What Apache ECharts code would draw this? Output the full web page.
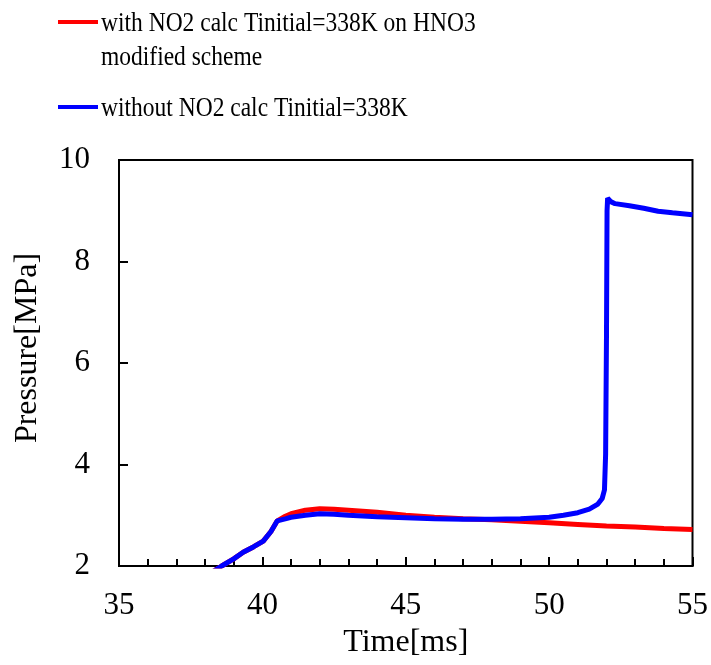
<!DOCTYPE html>
<html>
<head>
<meta charset="utf-8">
<script src="https://cdn.jsdelivr.net/npm/echarts@6/dist/echarts.min.js"></script>
<style>html,body{margin:0;padding:0;background:#fff;}#chart{width:711px;height:665px;}</style>
</head>
<body>
<div id="chart"></div>
<script>
const legendNames = ['with NO2 calc Tinitial=338K on HNO3\nmodified scheme', 'without NO2 calc Tinitial=338K'];
const xTicks = [35, 40, 45, 50, 55];
const yTicks = [2, 4, 6, 8, 10];
const timeRed = [38.3, 38.58, 39.0, 39.33, 39.7, 40.03, 40.3, 40.52, 40.8, 41.0, 41.5, 42.0, 42.5, 43.0, 44.0, 45.0, 46.0, 47.0, 48.0, 49.0, 50.0, 51.0, 52.0, 53.0, 54.0, 55.0];
const pressRed = [1.9, 2.0, 2.14, 2.27, 2.38, 2.49, 2.68, 2.89, 2.98, 3.03, 3.10, 3.13, 3.12, 3.10, 3.06, 3.00, 2.96, 2.93, 2.91, 2.88, 2.85, 2.82, 2.79, 2.77, 2.74, 2.72];
const timeBlue = [38.3, 38.58, 39.0, 39.33, 39.7, 40.03, 40.3, 40.52, 40.8, 41.0, 41.5, 42.0, 42.5, 43.0, 44.0, 45.0, 46.0, 47.0, 48.0, 49.0, 50.0, 50.5, 51.0, 51.4, 51.7, 51.85, 51.93, 51.97, 52.0, 52.02, 52.04, 52.15, 52.3, 52.8, 53.3, 53.8, 54.3, 55.0];
const pressBlue = [1.9, 2.0, 2.14, 2.27, 2.38, 2.49, 2.68, 2.89, 2.93, 2.96, 3.00, 3.03, 3.02, 3.00, 2.97, 2.95, 2.93, 2.92, 2.92, 2.93, 2.96, 3.00, 3.05, 3.12, 3.22, 3.33, 3.5, 4.2, 6.5, 9.0, 9.25, 9.18, 9.14, 9.10, 9.05, 8.99, 8.96, 8.92];

const FONT = '"Liberation Serif", "Times New Roman", serif';
const chart = echarts.init(document.getElementById('chart'));
const toPairs = (xs, ys) => xs.map((x, i) => [x, ys[i]]);
const legText = (text, x, y) => ({ type: 'text', x: x, y: y, scaleY: 1.2,
  style: { text: text, font: '23.5px ' + FONT, fill: '#000', verticalAlign: 'middle' } });

chart.setOption({
  animation: false,
  backgroundColor: '#fff',
  grid: { left: 119, right: 18, top: 160, bottom: 99, show: true, borderColor: '#000', borderWidth: 2, backgroundColor: 'transparent' },
  xAxis: {
    type: 'value', min: 35, max: 55, interval: 5,
    name: 'Time[ms]', nameLocation: 'middle', nameGap: 61,
    nameTextStyle: { fontFamily: FONT, fontSize: 32, color: '#000' },
    axisLine: { show: true, lineStyle: { color: '#000', width: 2 } },
    axisTick: { show: true, inside: true, length: 9, lineStyle: { color: '#000', width: 2 } },
    minorTick: { show: true, splitNumber: 5, length: 7, lineStyle: { color: '#000', width: 2 } },
    axisLabel: { fontFamily: FONT, fontSize: 31, color: '#000', margin: 24, formatter: v => xTicks.includes(v) ? String(v) : '' },
    splitLine: { show: false }
  },
  yAxis: {
    type: 'value', min: 2, max: 10, interval: 2,
    name: 'Pressure[MPa]', nameLocation: 'middle', nameGap: 75,
    nameTextStyle: { fontFamily: FONT, fontSize: 32, color: '#000', padding: [0, 0, 0, 30] },
    axisLine: { show: true, lineStyle: { color: '#000', width: 2 } },
    axisTick: { show: true, inside: true, length: 9, lineStyle: { color: '#000', width: 2 } },
    axisLabel: { fontFamily: FONT, fontSize: 31, color: '#000', margin: 29, formatter: v => yTicks.includes(v) ? String(v) : '' },
    splitLine: { show: false }
  },
  series: [
    { name: legendNames[0], type: 'line', data: toPairs(timeRed, pressRed), showSymbol: false, clip: true,
      lineStyle: { color: '#ff0000', width: 5 }, itemStyle: { color: '#ff0000' } },
    { name: legendNames[1], type: 'line', data: toPairs(timeBlue, pressBlue), showSymbol: false, clip: true,
      lineStyle: { color: '#0000ff', width: 5 }, itemStyle: { color: '#0000ff' } }
  ],
  graphic: [
    { type: 'line', shape: { x1: 58, y1: 22, x2: 98, y2: 22 }, style: { stroke: '#ff0000', lineWidth: 4 } },
    legText(legendNames[0].split('\n')[0], 101, 24),
    legText(legendNames[0].split('\n')[1], 101, 58),
    { type: 'line', shape: { x1: 58, y1: 107, x2: 98, y2: 107 }, style: { stroke: '#0000ff', lineWidth: 4 } },
    legText(legendNames[1], 101, 109)
  ]
});
</script>
</body>
</html>
